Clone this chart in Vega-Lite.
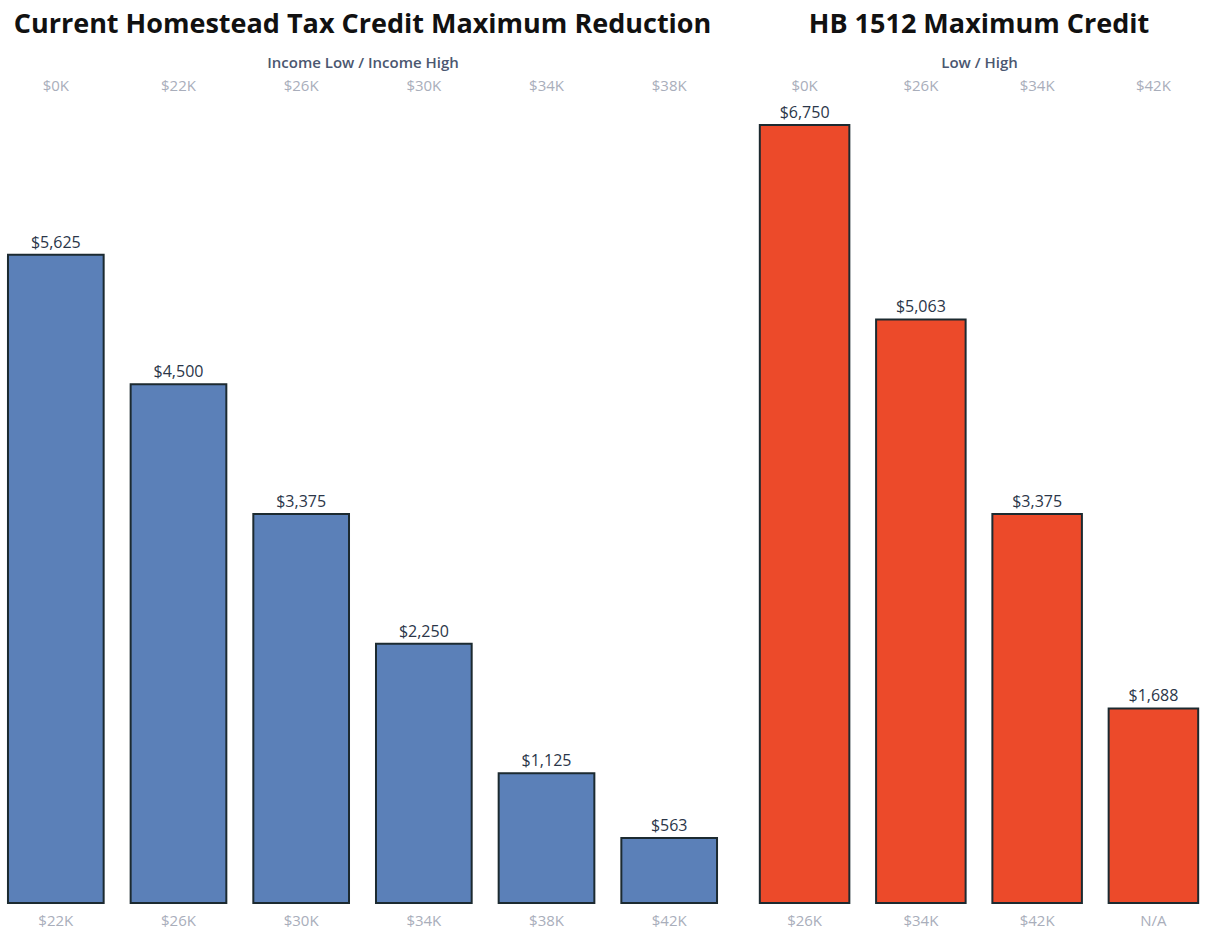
{
  "$schema": "https://vega.github.io/schema/vega-lite/v6.json",
  "padding": {"top": 11, "left": 0, "right": 0, "bottom": 0},
  "background": "white",
  "datasets": {
    "current": [
      {"low": "$0K", "high": "$22K", "value": 5625},
      {"low": "$22K", "high": "$26K", "value": 4500},
      {"low": "$26K", "high": "$30K", "value": 3375},
      {"low": "$30K", "high": "$34K", "value": 2250},
      {"low": "$34K", "high": "$38K", "value": 1125},
      {"low": "$38K", "high": "$42K", "value": 563}
    ],
    "hb1512": [
      {"low": "$0K", "high": "$26K", "value": 6750},
      {"low": "$26K", "high": "$34K", "value": 5063},
      {"low": "$34K", "high": "$42K", "value": 3375},
      {"low": "$42K", "high": "N/A", "value": 1688}
    ]
  },
  "config": {
    "view": {"stroke": null},
    "font": "Open Sans",
    "concat": {"spacing": 29},
    "axis": {
      "domain": false, "ticks": false, "grid": false,
      "labelFont": "Open Sans", "labelFontSize": 15, "labelColor": "#a9aebb", "labelAngle": 0,
      "titleFont": "Open Sans", "titleFontSize": 15, "titleFontWeight": 600, "titleColor": "#4b5770"
    }
  },
  "hconcat": [
    {
      "width": 725,
      "height": 778,
      "title": {"text": "Current Homestead Tax Credit Maximum Reduction", "fontSize": 27, "fontWeight": "bold", "color": "#111111", "anchor": "middle", "offset": 16, "font": "Open Sans"},
      "data": {"name": "current"},
      "layer": [
        {
          "mark": {"type": "bar", "fill": "#5b80b8", "stroke": "#1c2a30", "strokeWidth": 2},
          "encoding": {
            "x": {"field": "high", "type": "nominal", "sort": null,
                  "scale": {"type": "band", "paddingInner": 0.22, "paddingOuter": 0.065},
                  "axis": {"orient": "bottom", "title": null, "labelPadding": 10}},
            "y": {"field": "value", "type": "quantitative", "scale": {"domain": [0, 6750], "nice": false}, "axis": null}
          }
        },
        {
          "mark": {"type": "text", "baseline": "bottom", "dy": -4, "fontSize": 16, "color": "#2b3649"},
          "encoding": {
            "x": {"field": "low", "type": "nominal", "sort": null,
                  "scale": {"type": "band", "paddingInner": 0.22, "paddingOuter": 0.065},
                  "axis": {"orient": "top", "title": "Income Low / Income High", "labelPadding": 32, "titlePadding": 8}},
            "y": {"field": "value", "type": "quantitative", "scale": {"domain": [0, 6750], "nice": false}},
            "text": {"field": "value", "type": "quantitative", "format": "$,.0f"}
          }
        }
      ],
      "resolve": {"scale": {"x": "independent"}}
    },
    {
      "width": 450,
      "height": 778,
      "title": {"text": "HB 1512 Maximum Credit", "fontSize": 27, "fontWeight": "bold", "color": "#111111", "anchor": "middle", "offset": 16, "font": "Open Sans"},
      "data": {"name": "hb1512"},
      "layer": [
        {
          "mark": {"type": "bar", "fill": "#ec4a2a", "stroke": "#1c2a30", "strokeWidth": 2},
          "encoding": {
            "x": {"field": "high", "type": "nominal", "sort": null,
                  "scale": {"type": "band", "paddingInner": 0.23, "paddingOuter": 0.05},
                  "axis": {"orient": "bottom", "title": null, "labelPadding": 10}},
            "y": {"field": "value", "type": "quantitative", "scale": {"domain": [0, 6750], "nice": false}, "axis": null}
          }
        },
        {
          "mark": {"type": "text", "baseline": "bottom", "dy": -4, "fontSize": 16, "color": "#2b3649"},
          "encoding": {
            "x": {"field": "low", "type": "nominal", "sort": null,
                  "scale": {"type": "band", "paddingInner": 0.23, "paddingOuter": 0.05},
                  "axis": {"orient": "top", "title": "Low / High", "labelPadding": 32, "titlePadding": 8}},
            "y": {"field": "value", "type": "quantitative", "scale": {"domain": [0, 6750], "nice": false}},
            "text": {"field": "value", "type": "quantitative", "format": "$,.0f"}
          }
        }
      ],
      "resolve": {"scale": {"x": "independent"}}
    }
  ]
}
